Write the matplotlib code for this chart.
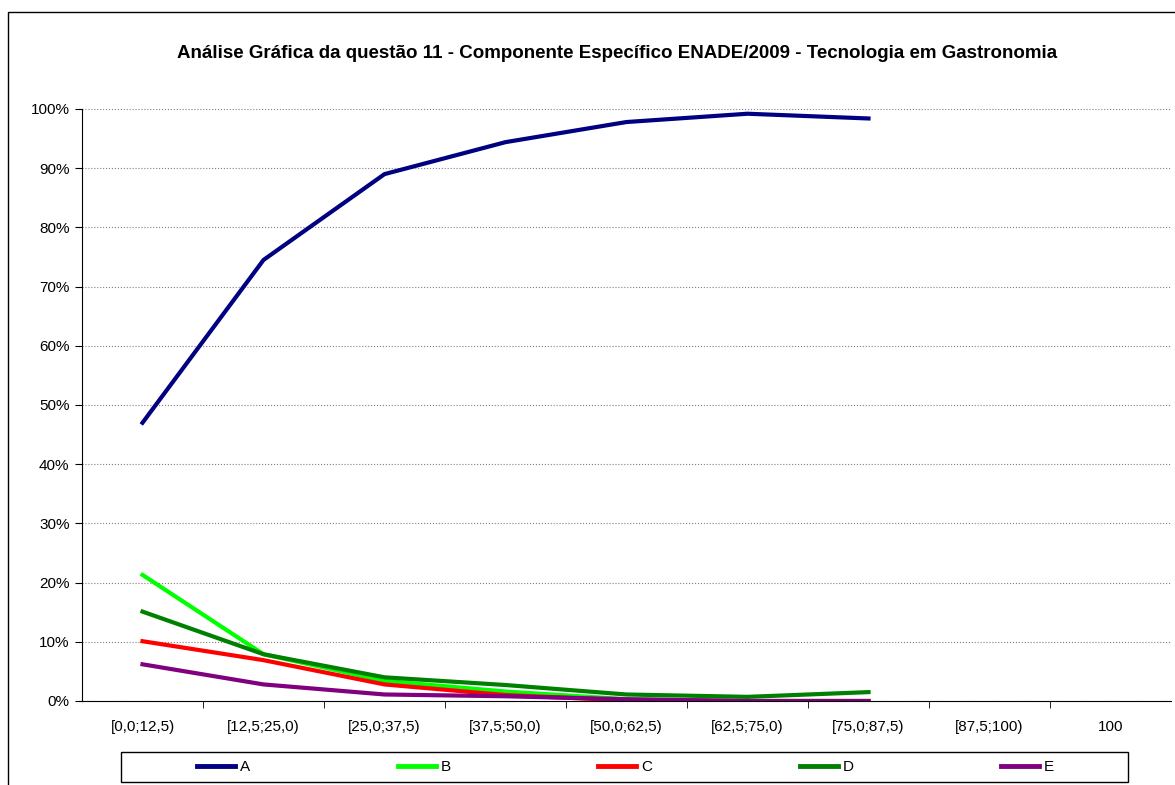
import matplotlib.pyplot as plt
import matplotlib.ticker as mticker
from matplotlib.patches import Rectangle

plt.rcParams['font.family'] = ['Liberation Sans', 'DejaVu Sans']

categories = ['[0,0;12,5)', '[12,5;25,0)', '[25,0;37,5)', '[37,5;50,0)',
              '[50,0;62,5)', '[62,5;75,0)', '[75,0;87,5)', '[87,5;100)', '100']
serie_a = [47.0, 74.5, 89.0, 94.4, 97.8, 99.2, 98.4]
serie_b = [21.3, 7.9, 3.4, 1.6, 0.3, 0.0, 0.0]
serie_c = [10.1, 6.9, 2.8, 1.0, 0.1, 0.0, 0.0]
serie_d = [15.1, 7.9, 4.0, 2.7, 1.1, 0.7, 1.5]
serie_e = [6.2, 2.8, 1.1, 0.8, 0.3, 0.0, 0.0]

series = [('A', serie_a, '#000080'),
          ('B', serie_b, '#00FF00'),
          ('C', serie_c, '#FF0000'),
          ('D', serie_d, '#008000'),
          ('E', serie_e, '#800080')]

W, H = 1175, 785
fig = plt.figure(figsize=(W / 100, H / 100), dpi=100)

# outer chart frame (cut by the image edge on the right and bottom)
fig.patches.append(Rectangle((8 / W, -0.1), 1.2, (H - 12) / H + 0.1,
                             transform=fig.transFigure, fill=False,
                             edgecolor='black', linewidth=1))

ax = fig.add_axes([82 / W, (H - 701) / H, (1171 - 82) / W, (701 - 109) / H])

for name, vals, col in series:
    ax.plot(range(len(vals)), [v / 100 for v in vals], color=col, linewidth=3,
            label=name)

ax.set_xlim(-0.5, len(categories) - 0.5)
ax.set_ylim(0, 1)
ax.yaxis.set_major_locator(mticker.MultipleLocator(0.1))
ax.yaxis.set_major_formatter(mticker.PercentFormatter(1.0, decimals=0))
ax.set_xticks(range(len(categories)))
ax.set_xticklabels(categories, fontsize=11)
ax.set_xticks([i + 0.5 for i in range(len(categories) - 1)], minor=True)
ax.tick_params(axis='x', which='major', length=0, pad=14)
ax.tick_params(axis='x', which='minor', length=5, direction='out')
ax.tick_params(axis='y', length=5, direction='out', labelsize=11, pad=4)
ax.grid(axis='y', color='#808080', linestyle=':', linewidth=0.8)
ax.set_axisbelow(True)
for s in ['top', 'right']:
    ax.spines[s].set_visible(False)

fig.text(617 / W, (H - 53) / H, 'Análise Gráfica da questão 11 - Componente Específico '
         'ENADE/2009 - Tecnologia em Gastronomia', ha='center', va='center',
         fontsize=13.5, fontweight='bold')

# legend box
fig.patches.append(Rectangle((121 / W, (H - 782) / H), (1128 - 121) / W, 30 / H,
                             transform=fig.transFigure, fill=False,
                             edgecolor='black', linewidth=1))
leg = fig.legend(loc='center', bbox_to_anchor=(197 / W, (H - 782) / H, (1054 - 197) / W, 30 / H),
                 mode='expand', ncol=5, fontsize=11, frameon=False,
                 handlelength=2.5, handletextpad=0.3, borderpad=0, borderaxespad=0)
for line in leg.get_lines():
    line.set_linewidth(3.5)

fig.savefig('out.png', dpi=100)
